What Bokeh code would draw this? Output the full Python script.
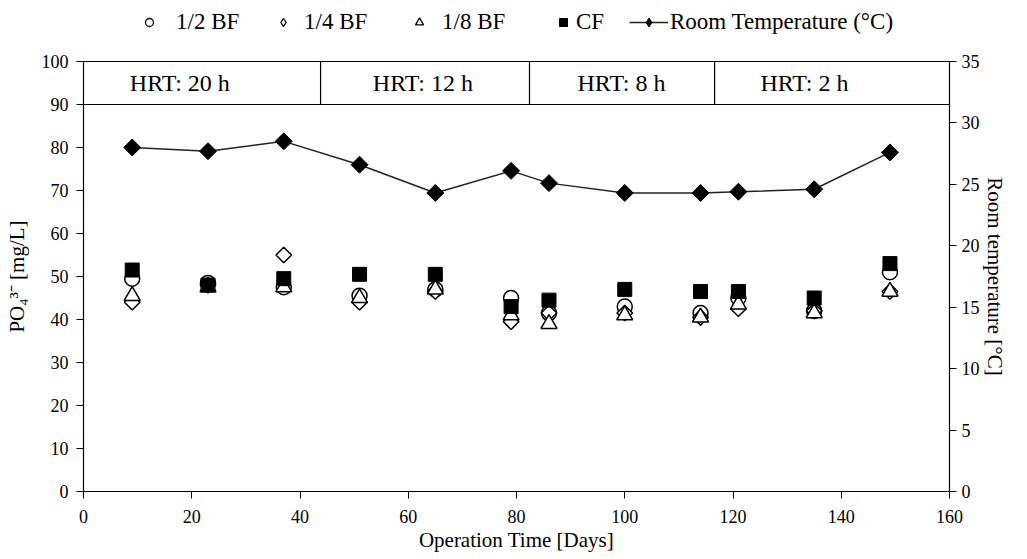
import math
from bokeh.plotting import figure
from bokeh.layouts import column
from bokeh.models import (ColumnDataSource, Range1d, LinearAxis, FixedTicker,
                          Legend, LegendItem, Label)
from bokeh.embed import file_html
from bokeh.resources import INLINE

# Operation days and phosphate concentrations (mg/L)
days = [9, 23, 37, 51, 65, 79, 86, 100, 114, 121, 135, 149]
bf_half = [49.5, 48.5, 47.5, 45.5, 47.0, 45.0, 41.5, 43.0, 41.5, 45.0, 42.0, 51.0]
bf_quarter = [44.0, 48.0, 55.0, 44.0, 46.5, 39.5, 41.5, 41.5, 40.5, 42.5, 42.0, 46.5]
bf_eighth = [45.5, 47.5, 47.5, 45.0, 47.0, 41.0, 39.0, 41.0, 40.5, 43.5, 41.5, 46.5]
cf = [51.5, 48.0, 49.5, 50.5, 50.5, 43.0, 44.5, 47.0, 46.5, 46.5, 45.0, 53.0]
room_temp = [28.0, 27.7, 28.5, 26.6, 24.3, 26.1, 25.1, 24.3, 24.3, 24.4, 24.6, 27.6]

# HRT phases shown in the band at the top of the plot
hrt_labels = ["HRT: 20 h", "HRT: 12 h", "HRT: 8 h", "HRT: 2 h"]
hrt_label_x = [17.8, 62.7, 99.4, 133.2]
hrt_dividers = [43.8, 82.4, 116.6]

FONT = "'Liberation Serif', 'Times New Roman', serif"
Q = math.pi / 4

# marker styles for the plotted series
STYLES = {
    "half": dict(marker="circle", size=15, fill_color="white", line_color="black", line_width=1.5),
    "quarter": dict(marker="square", angle=Q, size=11, fill_color="white", line_color="black", line_width=1.5),
    "eighth": dict(marker="triangle", size=16, fill_color="white", line_color="black", line_width=1.5),
    "cf": dict(marker="square", size=14, fill_color="black", line_color="black"),
    "temp": dict(marker="square", angle=Q, size=12, fill_color="black", line_color="black"),
}
LINE = dict(line_color="#222222", line_width=1.5)

p = figure(width=1027, height=514, output_backend="svg", toolbar_location=None,
           x_range=Range1d(0, 160), y_range=Range1d(0, 100),
           min_border_left=83, min_border_right=78, min_border_top=16,
           min_border_bottom=68)
p.grid.visible = False
p.outline_line_color = "black"
p.outline_line_width = 1
p.background_fill_color = "white"
p.border_fill_color = "white"

p.extra_y_ranges = {"temp": Range1d(0, 35)}

src = ColumnDataSource(dict(day=days, half=bf_half, quarter=bf_quarter,
                            eighth=bf_eighth, cf=cf, temp=room_temp))

p.scatter("day", "half", source=src, **STYLES["half"])
p.scatter("day", "quarter", source=src, **STYLES["quarter"])
p.scatter("day", "eighth", source=src, **STYLES["eighth"])
p.scatter("day", "cf", source=src, **STYLES["cf"])
p.line("day", "temp", source=src, y_range_name="temp", **LINE)
p.scatter("day", "temp", source=src, y_range_name="temp", **STYLES["temp"])

# HRT band: bottom edge and phase dividers
p.segment(x0=[0], y0=[90], x1=[160], y1=[90], line_color="black", line_width=1.2)
p.segment(x0=hrt_dividers, y0=[90] * 3, x1=hrt_dividers, y1=[100] * 3,
          line_color="black", line_width=1.2)
for lx, lt in zip(hrt_label_x, hrt_labels):
    p.add_layout(Label(x=lx, y=95, text=lt, text_align="center",
                       text_baseline="middle", text_font=FONT,
                       text_font_size="24px", text_color="black"))


def style_axis(ax, label_standoff):
    ax.axis_line_color = "black"
    ax.axis_line_width = 1.2
    ax.major_tick_line_color = "black"
    ax.major_tick_out = 7
    ax.major_tick_in = 0
    ax.minor_tick_line_color = None
    ax.major_label_text_font = FONT
    ax.major_label_text_font_size = "18px"
    ax.major_label_text_color = "black"
    ax.major_label_standoff = label_standoff
    ax.axis_label_text_font = FONT
    ax.axis_label_text_font_size = "21px"
    ax.axis_label_text_font_style = "normal"
    ax.axis_label_text_color = "black"


p.xaxis.ticker = FixedTicker(ticks=list(range(0, 161, 20)))
p.xaxis.axis_label = "Operation Time [Days]"
style_axis(p.xaxis[0], 11)
p.xaxis.axis_label_standoff = 2
p.yaxis.ticker = FixedTicker(ticks=list(range(0, 101, 10)))
p.yaxis.axis_label = "PO\u2084\u00b3\u207b [mg/L]"
style_axis(p.yaxis[0], 8)
p.yaxis.axis_label_standoff = 10

ax_r = LinearAxis(y_range_name="temp", ticker=FixedTicker(ticks=list(range(0, 36, 5))),
                  axis_label="Room temperature [\u00b0C]")
style_axis(ax_r, 5)
ax_r.axis_label_standoff = 0
p.add_layout(ax_r, "right")

# Key strip above the plot; its renderers sit outside the strip's visible range,
# so only their key symbols show
k = figure(width=1027, height=45, output_backend="svg", toolbar_location=None,
           x_range=Range1d(0, 1), y_range=Range1d(0, 1),
           x_axis_type=None, y_axis_type=None, min_border=0)
k.grid.visible = False
k.outline_line_color = None
KEY_OPEN = dict(fill_color="white", line_color="black", line_width=1.3)
k_half = k.scatter("day", "half", source=src, marker="circle", **KEY_OPEN)
k_quarter = k.scatter("day", "quarter", source=src, marker="diamond", **KEY_OPEN)
k_eighth = k.scatter("day", "eighth", source=src, marker="triangle", **KEY_OPEN)
k_cf = k.scatter("day", "cf", source=src, marker="square",
                 fill_color="black", line_color="black")
k_tline = k.line("day", "temp", source=src, **LINE)
k_tpts = k.scatter("day", "temp", source=src, marker="diamond",
                   fill_color="black", line_color="black")

# (label, renderers, left edge in strip frame, glyph width, label standoff)
key_entries = [
    ("1/2 BF", [k_half], 56, 20, 17),
    ("1/4 BF", [k_quarter], 190, 20, 11),
    ("1/8 BF", [k_eighth], 326, 20, 13),
    ("CF", [k_cf], 470, 20, 3),
    ("Room Temperature (\u00b0C)", [k_tline, k_tpts], 546, 39, 2),
]
for text, rends, lx, gw, standoff in key_entries:
    lg = Legend(items=[LegendItem(label=text, renderers=rends)],
                location=(lx, 10))
    lg.label_text_font = FONT
    lg.label_text_font_size = "23px"
    lg.label_text_color = "black"
    lg.label_text_baseline = "middle"
    lg.border_line_color = None
    lg.background_fill_alpha = 0
    lg.glyph_width = gw
    lg.glyph_height = 22
    lg.label_standoff = standoff
    lg.label_height = 24
    lg.padding = 0
    lg.margin = 0
    k.add_layout(lg, "center")

layout = column(k, p, spacing=0)
open("out.html", "w").write(file_html(layout, INLINE))
